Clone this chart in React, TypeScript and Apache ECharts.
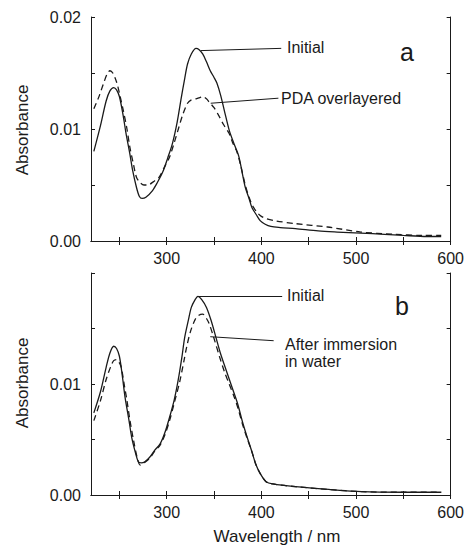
import React, { useEffect, useRef } from "react";
import * as echarts from "echarts";

// Panel a: Initial (solid) and PDA overlayered (dashed)
const initialA: [number, number][] = [
  [223, 0.008], [230, 0.0103], [236, 0.0125], [240, 0.0134], [244, 0.0137], [247, 0.0135], [250, 0.0129],
  [254, 0.0112], [257, 0.0096], [261, 0.0078], [264, 0.0063], [268, 0.0048], [271, 0.004], [274, 0.0038],
  [278, 0.0039], [285, 0.0045], [290, 0.0052], [296, 0.0062], [301, 0.0074], [306, 0.0087], [311, 0.0106],
  [315, 0.0126], [319, 0.0145], [322, 0.0158], [326, 0.0167], [331, 0.0172], [334, 0.0171], [338, 0.0167],
  [342, 0.016], [346, 0.0152], [350, 0.0146], [353, 0.0141], [357, 0.013], [361, 0.0116], [366, 0.0099],
  [371, 0.0087], [376, 0.0076], [380, 0.006], [383, 0.0048], [387, 0.0038], [390, 0.003], [395, 0.0023],
  [399, 0.0018], [404, 0.0015], [410, 0.0013], [420, 0.0012], [436, 0.0011], [460, 0.0009], [480, 0.0008],
  [505, 0.0007], [530, 0.0006], [550, 0.0005], [575, 0.0004], [590, 0.0004],
];
const pdaA: [number, number][] = [
  [223, 0.0118], [228, 0.0128], [233, 0.014], [237, 0.0149], [240, 0.0152], [243, 0.015], [247, 0.0142],
  [250, 0.0132], [254, 0.0117], [258, 0.01], [261, 0.0084], [265, 0.0068], [268, 0.0057], [272, 0.0052],
  [276, 0.005], [280, 0.005], [286, 0.0053], [292, 0.0057], [297, 0.0065], [303, 0.0075], [308, 0.0088],
  [313, 0.0102], [317, 0.0113], [322, 0.0123], [326, 0.0126], [331, 0.0127], [335, 0.0128], [338, 0.0129],
  [342, 0.0127], [345, 0.0124], [350, 0.0119], [355, 0.0112], [360, 0.0104], [366, 0.0096], [370, 0.0087],
  [374, 0.008], [378, 0.0068], [383, 0.005], [387, 0.0039], [391, 0.0031], [396, 0.0025], [400, 0.0022],
  [405, 0.002], [415, 0.0018], [436, 0.00155], [470, 0.00125], [505, 0.0008], [540, 0.0006], [570, 0.0005],
  [590, 0.0005],
];

// Panel b: Initial (solid) and After immersion in water (dashed)
const initialB: [number, number][] = [
  [223, 0.0074], [230, 0.0093], [236, 0.0115], [240, 0.0128], [244, 0.0134], [247, 0.0132], [250, 0.0125],
  [253, 0.0108], [256, 0.0088], [260, 0.0068], [263, 0.0052], [267, 0.0038], [270, 0.003], [273, 0.0029],
  [277, 0.003], [282, 0.0034], [287, 0.004], [293, 0.0046], [298, 0.0056], [303, 0.007], [308, 0.0086],
  [312, 0.0103], [316, 0.0124], [319, 0.0142], [323, 0.0158], [326, 0.0169], [330, 0.0176], [333, 0.0179],
  [337, 0.0176], [342, 0.0169], [347, 0.0157], [352, 0.0142], [357, 0.0127], [363, 0.0112], [369, 0.0097],
  [375, 0.0082], [380, 0.0066], [385, 0.0052], [390, 0.0039], [394, 0.0028], [399, 0.0019], [405, 0.0012],
  [412, 0.001], [436, 0.00075], [471, 0.0005], [506, 0.0003], [550, 0.00025], [590, 0.00025],
];
const waterB: [number, number][] = [
  [223, 0.0067], [230, 0.0085], [236, 0.0104], [241, 0.0116], [244, 0.0121], [247, 0.0122], [250, 0.0119],
  [252, 0.0115], [255, 0.01], [258, 0.0085], [261, 0.0068], [265, 0.0049], [269, 0.0033], [272, 0.0027],
  [276, 0.0029], [282, 0.0033], [287, 0.0039], [293, 0.0045], [298, 0.0054], [303, 0.0067], [308, 0.0083],
  [314, 0.0103], [318, 0.012], [321, 0.0133], [325, 0.0147], [330, 0.0158], [334, 0.0162], [338, 0.0163],
  [342, 0.0159], [345, 0.0154], [350, 0.0141], [356, 0.0124], [361, 0.0111], [366, 0.01], [371, 0.0089],
  [375, 0.0079], [380, 0.0064], [385, 0.0051], [390, 0.0039], [394, 0.0028], [399, 0.0019], [405, 0.0012],
  [412, 0.001], [436, 0.00075], [471, 0.0005], [506, 0.0003], [550, 0.00025], [590, 0.00025],
];

const xTicks = [250, 300, 350, 400, 450, 500, 550, 600];
const xLabels = [300, 400, 500, 600];
const yTicks = [0, 0.005, 0.01, 0.015, 0.02];
const yLabelsA = [0, 0.01, 0.02];
const yLabelsB = [0, 0.01];

// leader lines (data coordinates)
const leaderInitialA: [number, number][] = [[336, 0.017], [421, 0.0172]];
const leaderPdaA: [number, number][] = [[346.5, 0.0123], [418, 0.01275]];
const leaderInitialB: [number, number][] = [[333.5, 0.0179], [422, 0.0179]];
const leaderWaterB: [number, number][] = [[346, 0.01426], [413, 0.0139]];

const FONT = "'Liberation Sans', Arial, Helvetica, sans-serif";
const INK = "#1a1a1a";

export default function App() {
  const ref = useRef<HTMLDivElement>(null);
  useEffect(() => {
    if (!ref.current) return;
    const chart = echarts.init(ref.current, undefined, { renderer: "svg" });
    const axisLine = { show: true, lineStyle: { color: INK, width: 1 } };
    const tickStyle = { inside: true, length: 4, lineStyle: { color: INK, width: 1 } };
    const labelStyle = { color: INK, fontSize: 16, fontFamily: FONT };
    const xAx = (gridIndex: number, pos: "bottom" | "top") => ({
      type: "value", gridIndex, position: pos, min: 220, max: 600,
      axisLine, splitLine: { show: false },
      axisTick: { ...tickStyle, customValues: xTicks },
      axisLabel: pos === "bottom"
        ? { ...labelStyle, margin: 9, customValues: xLabels }
        : { show: false },
    });
    const yAx = (gridIndex: number, pos: "left" | "right", labels: number[]) => ({
      type: "value", gridIndex, position: pos, min: 0, max: 0.02,
      axisLine, splitLine: { show: false },
      axisTick: { ...tickStyle, customValues: yTicks },
      axisLabel: pos === "left"
        ? { ...labelStyle, margin: 10, customValues: labels, formatter: (v: number) => v.toFixed(2) }
        : { show: false },
    });
    const leader = (pts: [number, number][]) => ({
      silent: true, symbol: "none", animation: false,
      label: { show: false },
      lineStyle: { color: INK, width: 1, type: "solid" },
      data: [[{ coord: pts[0] }, { coord: pts[1] }]],
    });
    const line = (name: string, data: [number, number][], idx: number, dashed: boolean, ml: any[]) => ({
      name, type: "line", xAxisIndex: idx, yAxisIndex: idx, data,
      showSymbol: false, smooth: 0.3,
      lineStyle: { color: INK, width: 1.3, type: dashed ? [6, 4] : "solid" },
      ...(ml.length ? { markLine: ml[0] } : {}),
    });
    const txt = (text: string, x: number, y: number, size = 16, align = "left", vAlign = "middle") => ({
      type: "text", x, y,
      style: { text, fill: INK, font: `${size}px ${FONT}`, align, verticalAlign: vAlign, lineHeight: 17 },
    });
    chart.setOption({
      animation: false,
      backgroundColor: "#fff",
      grid: [
        { left: 91, right: 14, top: 17, height: 224 },
        { left: 91, right: 15, top: 273, height: 222 },
      ],
      xAxis: [xAx(0, "bottom"), xAx(0, "top"), xAx(1, "bottom"), xAx(1, "top")],
      yAxis: [yAx(0, "left", yLabelsA), yAx(0, "right", yLabelsA), yAx(1, "left", yLabelsB), yAx(1, "right", yLabelsB)],
      series: [
        line("Initial", initialA, 0, false, [leader(leaderInitialA)]),
        line("PDA overlayered", pdaA, 0, true, [leader(leaderPdaA)]),
        line("Initial", initialB, 2, false, [leader(leaderInitialB)]),
        line("After immersion in water", waterB, 2, true, [leader(leaderWaterB)]),
      ],
      graphic: [
        txt("Initial", 287, 47),
        txt("PDA overlayered", 281, 98),
        txt("a", 407, 52, 25, "center"),
        txt("Initial", 287, 295),
        txt("After immersion\nin water", 285, 336, 16, "left", "top"),
        txt("b", 402, 306, 25, "center"),
        { type: "text", x: 22, y: 130, rotation: Math.PI / 2,
          style: { text: "Absorbance", fill: INK, font: `17px ${FONT}`, align: "center", verticalAlign: "middle" } },
        { type: "text", x: 22, y: 383, rotation: Math.PI / 2,
          style: { text: "Absorbance", fill: INK, font: `17px ${FONT}`, align: "center", verticalAlign: "middle" } },
        txt("Wavelength / nm", 277, 536, 17, "center"),
      ],
    });
    return () => chart.dispose();
  }, []);
  return <div ref={ref} style={{ width: 467, height: 548, position: "absolute", left: 0, top: 0 }} />;
}
